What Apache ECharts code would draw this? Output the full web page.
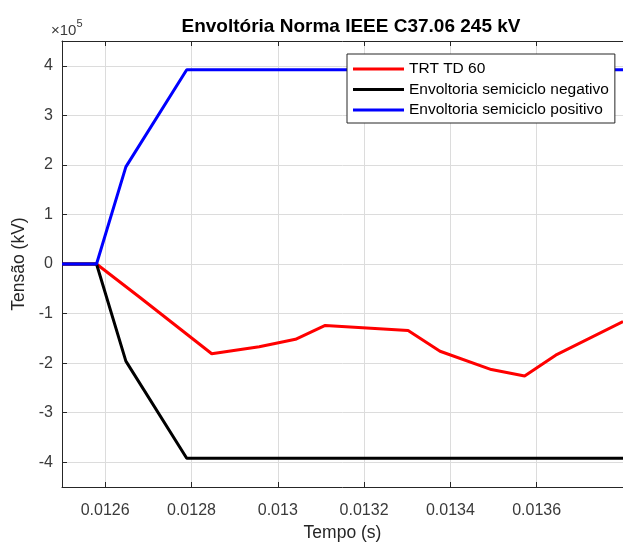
<!DOCTYPE html>
<html>
<head>
<meta charset="utf-8">
<script src="https://cdn.jsdelivr.net/npm/echarts@6/dist/echarts.min.js"></script>
<style>
  html, body { margin: 0; padding: 0; background: #fff; }
  #chart { width: 623px; height: 547px; }
</style>
</head>
<body>
<div id="chart"></div>
<script>
// Time axis in seconds, voltage in volts (axis shows ×10^5)
const tempoTRT = [0.0125, 0.01258, 0.01268, 0.012847, 0.012957, 0.013041, 0.01311, 0.013302, 0.013376, 0.013495, 0.013572, 0.013644, 0.0138];
const tensaoTRT = [0, 0, -0.67e5, -1.81e5, -1.67e5, -1.52e5, -1.24e5, -1.34e5, -1.76e5, -2.13e5, -2.26e5, -1.84e5, -1.16e5];

const tempoEnv = [0.0125, 0.01258, 0.012648, 0.012789, 0.0138];
const envNegativo = [0, 0, -1.96e5, -3.92e5, -3.92e5];
const envPositivo = [0, 0, 1.96e5, 3.92e5, 3.92e5];

const nomesSeries = ['TRT TD 60', 'Envoltoria semiciclo negativo', 'Envoltoria semiciclo positivo'];
const coresSeries = ['#ff0000', '#000000', '#0000ff'];

const xMin = 0.0125, xMax = 0.0138;
const yMin = -4.5e5, yMax = 4.5e5;

const pares = (xs, ys) => xs.map((x, i) => [x, ys[i]]);

const FONT = '"Liberation Sans", Arial, Helvetica, sans-serif';
const AXIS_COLOR = '#262626';
const LABEL_COLOR = '#3a3a3a';

const chart = echarts.init(document.getElementById('chart'), null, { renderer: 'canvas' });

chart.setOption({
  animation: false,
  backgroundColor: '#ffffff',
  title: {
    text: 'Envoltória Norma IEEE C37.06 245 kV',
    left: 346,
    top: 12,
    textAlign: 'center',
    textStyle: { fontFamily: FONT, fontSize: 19, fontWeight: 'bold', color: '#000' }
  },
  grid: { left: 62, right: -3, top: 41, bottom: 55, containLabel: false },
  legend: {
    orient: 'vertical',
    left: 347,
    top: 54,
    data: nomesSeries,
    icon: 'rect',
    itemWidth: 51,
    itemHeight: 3,
    itemGap: 3.5,
    padding: [6.5, 6, 4.5, 6],
    backgroundColor: '#ffffff',
    borderColor: AXIS_COLOR,
    borderWidth: 1,
    borderRadius: 0,
    textStyle: { fontFamily: FONT, fontSize: 15.5, color: '#000', lineHeight: 17 }
  },
  xAxis: [{
    type: 'value',
    min: xMin,
    max: xMax,
    splitNumber: 6,
    name: 'Tempo (s)',
    nameLocation: 'middle',
    nameGap: 37,
    nameTextStyle: { fontFamily: FONT, fontSize: 17.5, color: AXIS_COLOR },
    axisLine: { show: true, onZero: false, lineStyle: { color: AXIS_COLOR, width: 1 } },
    axisTick: { show: true, inside: true, length: 5, lineStyle: { color: AXIS_COLOR } },
    axisLabel: { showMinLabel: false, showMaxLabel: false, margin: 16, fontFamily: FONT, fontSize: 16, color: LABEL_COLOR },
    splitLine: { show: true, lineStyle: { color: '#dcdcdc', width: 1 } }
  }, {
    type: 'value',
    position: 'top',
    min: xMin,
    max: xMax,
    splitNumber: 6,
    axisLine: { show: true, onZero: false, lineStyle: { color: AXIS_COLOR, width: 1 } },
    axisTick: { show: true, inside: true, length: 5, lineStyle: { color: AXIS_COLOR } },
    axisLabel: { show: false },
    splitLine: { show: false }
  }],
  yAxis: {
    type: 'value',
    min: yMin,
    max: yMax,
    splitNumber: 9,
    name: 'Tensão (kV)',
    nameLocation: 'middle',
    nameGap: 23,
    nameRotate: 90,
    nameTextStyle: { fontFamily: FONT, fontSize: 17.5, color: AXIS_COLOR },
    axisLine: { show: true, onZero: false, lineStyle: { color: AXIS_COLOR, width: 1 } },
    axisTick: { show: true, inside: true, length: 5, lineStyle: { color: AXIS_COLOR } },
    axisLabel: {
      showMinLabel: false, showMaxLabel: false, margin: 9,
      fontFamily: FONT, fontSize: 16, color: LABEL_COLOR,
      formatter: v => String(Math.round(v / 1e5))
    },
    splitLine: { show: true, lineStyle: { color: '#dcdcdc', width: 1 } }
  },
  graphic: [{
    type: 'text',
    left: 51,
    top: 18,
    style: {
      text: '{a|×10}{b|5}',
      rich: {
        a: { fontFamily: FONT, fontSize: 15, fill: LABEL_COLOR, verticalAlign: 'bottom' },
        b: { fontFamily: FONT, fontSize: 11, fill: LABEL_COLOR, verticalAlign: 'top', padding: [0, 0, 9, 0] }
      }
    }
  }],
  series: [
    {
      name: nomesSeries[0], type: 'line', xAxisIndex: 0,
      data: pares(tempoTRT, tensaoTRT),
      showSymbol: false, symbol: 'none',
      lineStyle: { color: coresSeries[0], width: 3 },
      itemStyle: { color: coresSeries[0] }
    },
    {
      name: nomesSeries[1], type: 'line', xAxisIndex: 0,
      data: pares(tempoEnv, envNegativo),
      showSymbol: false, symbol: 'none',
      lineStyle: { color: coresSeries[1], width: 3 },
      itemStyle: { color: coresSeries[1] }
    },
    {
      name: nomesSeries[2], type: 'line', xAxisIndex: 0,
      data: pares(tempoEnv, envPositivo),
      showSymbol: false, symbol: 'none',
      lineStyle: { color: coresSeries[2], width: 3 },
      itemStyle: { color: coresSeries[2] }
    }
  ]
});
</script>
</body>
</html>
